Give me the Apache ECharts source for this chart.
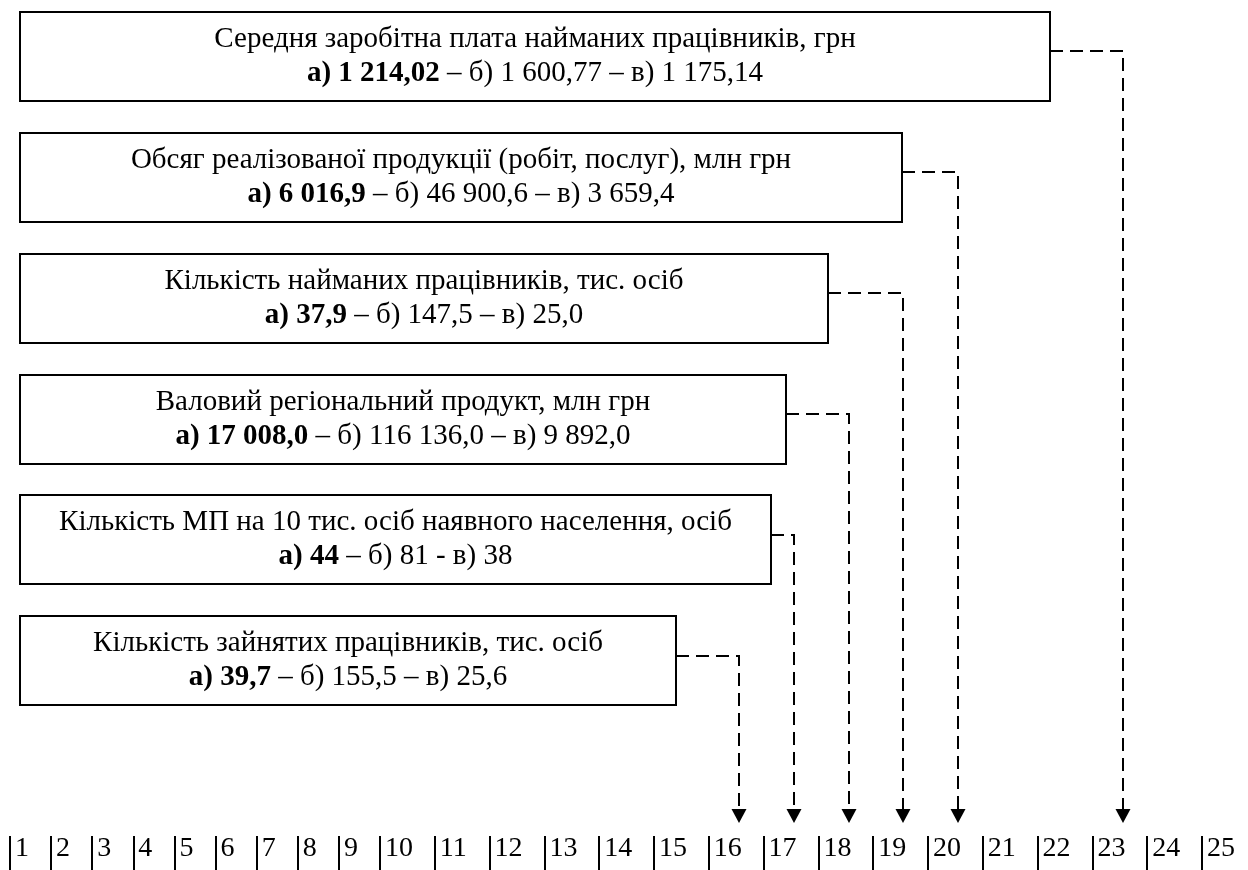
<!DOCTYPE html>
<html>
<head>
<meta charset="utf-8">
<script src="https://cdn.jsdelivr.net/npm/echarts@6/dist/echarts.min.js"></script>
<style>html,body{margin:0;padding:0;background:#fff}#c{width:1248px;height:870px}</style>
</head>
<body>
<div id="c"></div>
<script>
// ---- data ----
const indicatorNames = [
  'Середня заробітна плата найманих працівників, грн',
  'Обсяг реалізованої продукції (робіт, послуг), млн грн',
  'Кількість найманих працівників, тис. осіб',
  'Валовий регіональний продукт, млн грн',
  'Кількість МП на 10 тис. осіб наявного населення, осіб',
  'Кількість зайнятих працівників, тис. осіб'
];
const valuesA = ['1 214,02', '6 016,9', '37,9', '17 008,0', '44', '39,7'];
const valuesB = ['1 600,77', '46 900,6', '147,5', '116 136,0', '81', '155,5'];
const valuesC = ['1 175,14', '3 659,4', '25,0', '9 892,0', '38', '25,6'];
const sepBC = ['–', '–', '–', '–', '-', '–'];
const ranks = [23, 20, 19, 18, 17, 16];
const scaleLabels = ['1','2','3','4','5','6','7','8','9','10','11','12','13','14','15','16','17','18','19','20','21','22','23','24','25'];

// ---- layout / style ----
const FONT = '"Liberation Serif", "Times New Roman", serif';
const FS = 29;
const AXIS_FS = 28;
const LH = 34;
const BOX_LEFT = 20;
const BOX_RIGHT = [1050, 902, 828, 786, 771, 676];
const BOX_H = 89;
const ARROW_NUDGE = 0.55;

const chart = echarts.init(document.getElementById('c'), null, {renderer: 'canvas'});

function renderItem(params, api) {
  const i = api.value(1);
  const rank = api.value(0);
  const c = api.coord([rank + ARROW_NUDGE, i]);
  const ax = Math.round(c[0]);
  const cy = c[1];
  const right = BOX_RIGHT[i];
  const top = Math.round(cy - BOX_H / 2);
  const tipY = params.coordSys.y + params.coordSys.height - 13;
  const linkY = Math.round(cy - 5);
  const txt = '{t|' + indicatorNames[i] + '}\n{b|а) ' + valuesA[i] + '}{t| – б) ' + valuesB[i] + ' ' + sepBC[i] + ' в) ' + valuesC[i] + '}';
  return {
    type: 'group',
    children: [
      {type: 'rect', shape: {x: BOX_LEFT, y: top, width: right - BOX_LEFT, height: BOX_H},
       style: {fill: '#fff', stroke: '#000', lineWidth: 2}},
      {type: 'text', style: {
        x: (BOX_LEFT + right) / 2, y: cy, text: txt, align: 'center', verticalAlign: 'middle',
        fontFamily: FONT, fontSize: FS, lineHeight: LH, fill: '#000',
        rich: {
          t: {fontFamily: FONT, fontSize: FS, lineHeight: LH, fill: '#000'},
          b: {fontFamily: FONT, fontSize: FS, lineHeight: LH, fontWeight: 'bold', fill: '#000'}
        }
      }},
      {type: 'polyline', shape: {points: [[right, linkY], [ax, linkY], [ax, tipY - 14]]},
       style: {stroke: '#000', lineWidth: 2, lineDash: [13, 7], fill: null}},
      {type: 'polygon', shape: {points: [[ax - 7.5, tipY - 14], [ax + 7.5, tipY - 14], [ax, tipY]]},
       style: {fill: '#000', stroke: null}}
    ]
  };
}

const axisCommon = {
  type: 'value',
  interval: 1,
  position: 'bottom',
  axisLine: {show: false, onZero: false},
  splitLine: {show: false},
  axisTick: {show: true, length: 34, lineStyle: {color: '#000', width: 2}},
  axisLabel: {
    color: '#000', fontFamily: FONT, fontSize: AXIS_FS, align: 'left', verticalAlign: 'top',
    margin: -1, padding: [0, 0, 0, 5], showMinLabel: true, showMaxLabel: true
  }
};

chart.setOption({
  animation: false,
  backgroundColor: '#fff',
  grid: [
    {left: 380, right: 46, top: 0, bottom: 34},
    {left: 10, width: 370, top: 0, bottom: 34}
  ],
  xAxis: [
    Object.assign({}, axisCommon, {gridIndex: 0, min: 10, max: 25,
      axisLabel: Object.assign({}, axisCommon.axisLabel, {formatter: v => scaleLabels[v - 1]})}),
    Object.assign({}, axisCommon, {gridIndex: 1, min: 1, max: 10,
      axisLabel: Object.assign({}, axisCommon.axisLabel, {formatter: v => v === 10 ? '' : scaleLabels[v - 1]})})
  ],
  yAxis: [
    {type: 'value', gridIndex: 0, inverse: true, min: -0.467, max: 6.45, show: false},
    {type: 'value', gridIndex: 1, show: false}
  ],
  series: [{
    type: 'custom',
    xAxisIndex: 0, yAxisIndex: 0,
    clip: false,
    renderItem: renderItem,
    data: ranks.map((r, i) => [r, i])
  }]
});
</script>
</body>
</html>
